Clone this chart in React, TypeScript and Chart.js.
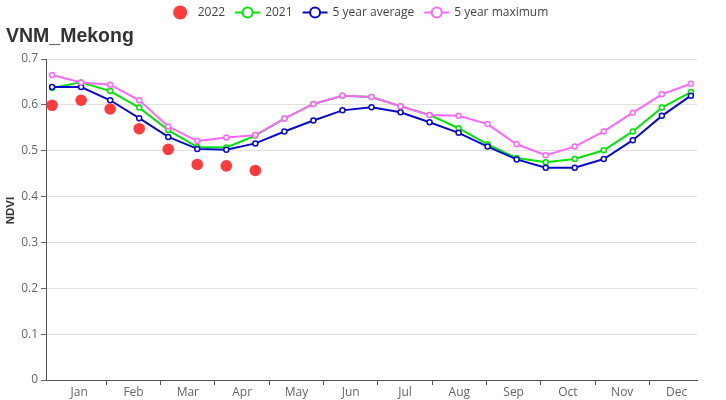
import React, { useEffect, useRef } from 'react';
import { Chart, registerables } from 'chart.js';

Chart.register(...registerables);

// 23 sixteen-day composites across the year (index positions)
const PERIODS = [0, 1, 2, 3, 4, 5, 6, 7, 8, 9, 10, 11, 12, 13, 14, 15, 16, 17, 18, 19, 20, 21, 22];
const MONTHS = ['Jan', 'Feb', 'Mar', 'Apr', 'May', 'Jun', 'Jul', 'Aug', 'Sep', 'Oct', 'Nov', 'Dec'];

const NDVI_2022 = [0.599, 0.61, 0.591, 0.548, 0.503, 0.47, 0.467, 0.457];
const NDVI_2021 = [
  0.637, 0.649, 0.63, 0.594, 0.545, 0.508, 0.507, 0.533, 0.57, 0.602, 0.62, 0.617,
  0.597, 0.578, 0.549, 0.514, 0.484, 0.475, 0.482, 0.501, 0.542, 0.594, 0.628,
];
const NDVI_AVG5 = [
  0.639, 0.639, 0.61, 0.571, 0.53, 0.504, 0.502, 0.516, 0.542, 0.566, 0.588, 0.595,
  0.584, 0.562, 0.539, 0.509, 0.481, 0.463, 0.463, 0.482, 0.523, 0.576, 0.62,
];
const NDVI_MAX5 = [
  0.665, 0.649, 0.644, 0.61, 0.553, 0.521, 0.529, 0.534, 0.57, 0.602, 0.62, 0.617,
  0.597, 0.578, 0.576, 0.558, 0.514, 0.49, 0.509, 0.542, 0.583, 0.623, 0.646,
];

const TITLE = 'VNM_Mekong';
const Y_TITLE = 'NDVI';

const COLORS = {
  y2022: '#ff3b3b',
  y2021: '#00e600',
  avg: '#0a0acd',
  max: '#ff66ff',
};

const FONT = '"Open Sans", "Liberation Sans", sans-serif';

export default function App() {
  const ref = useRef<HTMLCanvasElement | null>(null);

  useEffect(() => {
    document.body.style.margin = '0';
    const canvas = ref.current;
    if (!canvas) return;

    const MONTH_W = 1.87; // month width in composite-index units
    const isBoundary = (v: number) => Math.abs(v / MONTH_W - Math.round(v / MONTH_W)) < 1e-6;

    const headerPlugin = {
      id: 'header',
      afterDraw(chart: any) {
        const ctx = chart.ctx as CanvasRenderingContext2D;
        ctx.save();
        // title
        ctx.font = 'bold 19.5px "Liberation Sans", Arial, sans-serif';
        ctx.fillStyle = '#333';
        ctx.textBaseline = 'alphabetic';
        ctx.textAlign = 'left';
        ctx.fillText(TITLE, 6, 42);

        // y axis name
        ctx.save();
        ctx.translate(10.5, chart.chartArea.top + (chart.chartArea.bottom - chart.chartArea.top) / 2 - 9);
        ctx.rotate(-Math.PI / 2);
        ctx.font = 'bold 11.5px "Liberation Sans", Arial, sans-serif';
        ctx.fillStyle = '#333';
        ctx.textAlign = 'center';
        ctx.textBaseline = 'middle';
        ctx.fillText(Y_TITLE, 0, 0);
        ctx.restore();

        // legend
        ctx.font = `12px ${FONT}`;
        const iconW = 25;
        const gap = 5;
        const itemGap = 10;
        const ds = chart.data.datasets;
        const legendOrder = [0, 1, 2, 3];
        const widths = legendOrder.map((i) => iconW + gap + ctx.measureText(ds[i].label).width);
        const total = widths.reduce((a, b) => a + b, 0) + itemGap * (widths.length - 1);
        let x = 358 - total / 2;
        const cy = 12.5;
        legendOrder.forEach((i, k) => {
          const d = ds[i];
          const color = d.borderColor as string;
          const cx = x + iconW / 2;
          if (d.showLine === false) {
            ctx.beginPath();
            ctx.arc(cx, cy, 7, 0, Math.PI * 2);
            ctx.fillStyle = d.backgroundColor as string;
            ctx.fill();
          } else {
            ctx.strokeStyle = color;
            ctx.lineWidth = 2;
            ctx.beginPath();
            ctx.moveTo(x, cy);
            ctx.lineTo(x + iconW, cy);
            ctx.stroke();
            ctx.beginPath();
            ctx.arc(cx, cy, 5, 0, Math.PI * 2);
            ctx.fillStyle = '#fff';
            ctx.fill();
            ctx.stroke();
          }
          ctx.fillStyle = '#444';
          ctx.textAlign = 'left';
          ctx.textBaseline = 'middle';
          ctx.fillText(d.label, x + iconW + gap, cy + 0.5);
          x += widths[k] + itemGap;
        });
        ctx.restore();
      },
    };

    const lineDs = (label: string, data: number[], color: string, order: number) => ({
      label,
      data,
      borderColor: color,
      backgroundColor: '#fff',
      borderWidth: 2,
      pointRadius: 2.5,
      pointBorderWidth: 1.5,
      pointBackgroundColor: '#fff',
      pointBorderColor: color,
      tension: 0,
      order,
    });

    const chart = new Chart(canvas, {
      type: 'line',
      data: {
        labels: PERIODS,
        datasets: [
          {
            label: '2022',
            data: NDVI_2022,
            showLine: false,
            borderColor: COLORS.y2022,
            backgroundColor: COLORS.y2022,
            pointRadius: 5.8,
            pointBorderWidth: 0,
            pointBackgroundColor: COLORS.y2022,
            order: 0,
          } as any,
          lineDs('2021', NDVI_2021, COLORS.y2021, 3),
          lineDs('5 year average', NDVI_AVG5, COLORS.avg, 2),
          lineDs('5 year maximum', NDVI_MAX5, COLORS.max, 1),
        ],
      },
      options: {
        animation: false,
        responsive: true,
        maintainAspectRatio: false,
        layout: { padding: { top: 59, right: 29, bottom: 0, left: 0 } },
        plugins: {
          legend: { display: false },
          title: { display: false },
          tooltip: { enabled: false },
        },
        scales: {
          x: {
            type: 'linear',
            min: -0.21,
            max: 22.21,
            afterBuildTicks: (scale: any) => {
              const t: { value: number }[] = [];
              for (let k = 0; k < MONTHS.length; k++) {
                if (k > 0) t.push({ value: k * MONTH_W });
                t.push({ value: (k + 0.5) * MONTH_W });
              }
              scale.ticks = t;
            },
            afterFit: (scale: any) => {
              scale.height = 20;
            },
            ticks: {
              autoSkip: false,
              maxRotation: 0,
              minRotation: 0,
              padding: 0,
              color: '#666',
              font: { family: FONT, size: 12 },
              callback: (value: any) =>
                isBoundary(Number(value)) ? '' : MONTHS[Math.floor(Number(value) / MONTH_W)],
            },
            grid: {
              drawOnChartArea: false,
              drawTicks: true,
              tickLength: 5,
              tickColor: (c: any) =>
                c.tick && isBoundary(c.tick.value) ? '#555' : 'rgba(0,0,0,0)',
            },
            border: { display: true, color: '#555', width: 1 },
          },
          y: {
            min: 0,
            max: 0.7,
            afterFit: (scale: any) => {
              scale.width = 46;
            },
            ticks: {
              stepSize: 0.1,
              padding: 3,
              color: '#666',
              font: { family: FONT, size: 12 },
              callback: (v: any) => (Number(v) === 0 ? '0' : Number(v).toFixed(1)),
            },
            grid: {
              color: (c: any) => (c.tick && c.tick.value === 0 ? 'rgba(0,0,0,0)' : '#e0e0e0'),
              tickColor: '#666',
              tickLength: 5,
            },
            border: { display: true, color: '#555', width: 1 },
            title: { display: false },
          },
        },
      },
      plugins: [headerPlugin],
    });

    return () => chart.destroy();
  }, []);

  return (
    <div style={{ width: 726, height: 400, position: 'relative' }}>
      <canvas ref={ref} />
    </div>
  );
}
